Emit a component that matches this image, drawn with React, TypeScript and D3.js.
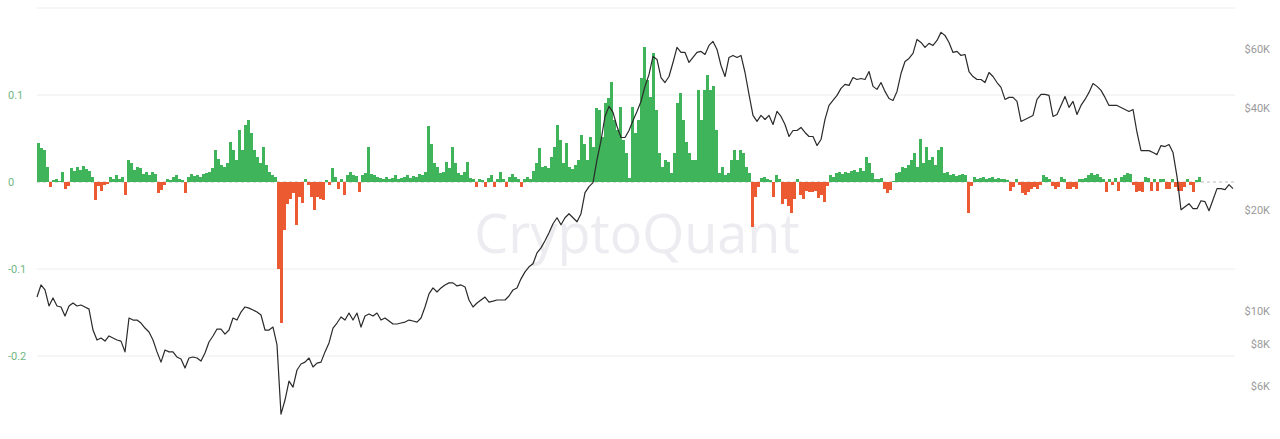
import React from "react";
import * as d3 from "d3";

// Flow ratio (bars), one value every 3 days
const flowRatio: number[] = [
  0.045,0.039,0.037,0.017,-0.006,0.002,0.004,0.001,0.012,-0.008,-0.005,0.016,0.013,0.017,0.014,0.018,0.015,0.013,0.006,-0.021,
  -0.005,-0.01,-0.004,-0.002,0.006,0.004,0.008,0.004,0.006,-0.015,0.025,0.022,0.014,0.017,0.016,0.009,0.011,0.008,0.012,0.009,
  -0.013,-0.009,-0.004,0.003,0.002,0.006,0.008,0.003,0.002,-0.013,0.006,0.009,0.007,0.008,0.006,0.009,0.01,0.012,0.016,0.037,
  0.027,0.02,0.017,0.022,0.046,0.037,0.025,0.06,0.037,0.065,0.071,0.056,0.037,0.029,0.022,0.04,0.02,0.012,0.008,0.006,
  -0.1,-0.162,-0.055,-0.025,-0.02,-0.013,-0.049,-0.017,-0.024,0.003,-0.004,-0.017,-0.032,-0.017,-0.019,-0.021,0.002,-0.003,0.016,0.006,
  -0.008,0.004,-0.015,0.008,0.012,0.008,0.007,-0.011,0.008,0.01,0.04,0.009,0.008,0.006,0.005,0.004,0.006,0.004,0.005,0.008,
  0.004,0.005,0.006,0.008,0.005,0.007,0.006,0.009,0.008,0.012,0.064,0.044,0.022,0.017,0.01,0.012,0.023,0.016,0.04,0.022,
  0.01,0.008,0.011,0.023,0.005,0.003,-0.006,0.004,0.002,-0.006,0.005,0.008,-0.006,0.004,0.011,0.003,-0.006,0.006,0.009,0.006,
  0.004,-0.006,0.003,0.006,0.004,0.013,0.022,0.039,0.017,0.018,0.016,0.029,0.04,0.065,0.048,0.022,0.045,0.017,0.015,0.02,
  0.025,0.054,0.044,0.025,0.052,0.04,0.085,0.083,0.052,0.091,0.097,0.115,0.071,0.06,0.086,0.048,0.033,0.005,0.086,0.056,
  0.071,0.12,0.155,0.117,0.098,0.148,0.083,0.033,0.017,0.025,0.023,0.01,0.033,0.091,0.102,0.071,0.046,0.033,0.025,0.025,
  0.106,0.071,0.106,0.123,0.106,0.11,0.06,0.01,0.017,0.008,0.01,0.025,0.037,0.025,0.037,0.033,0.017,0.01,-0.052,-0.017,
  -0.006,0.005,0.006,0.004,0.002,-0.017,0.008,0.004,-0.025,-0.02,-0.028,-0.036,-0.02,0.003,-0.015,-0.02,-0.01,-0.012,-0.012,-0.01,
  -0.018,-0.015,-0.023,-0.005,0.008,0.006,0.01,0.012,0.009,0.011,0.01,0.013,0.014,0.012,0.016,0.013,0.029,0.022,0.01,0.004,
  0.003,0.005,-0.008,-0.013,-0.009,0.001,0.01,0.011,0.017,0.016,0.019,0.025,0.033,0.017,0.05,0.022,0.04,0.025,0.029,0.02,
  0.037,0.04,0.01,0.011,0.008,0.009,0.007,0.008,0.009,0.008,-0.036,-0.005,0.006,0.004,0.005,0.006,0.004,0.005,0.006,0.004,
  0.005,0.003,0.004,0.002,-0.01,-0.006,0.004,-0.003,-0.013,-0.015,-0.011,-0.008,-0.006,-0.008,-0.004,0.008,0.006,0.004,-0.005,-0.008,
  -0.006,0.006,0.004,-0.008,-0.008,-0.006,-0.008,0.004,0.003,0.005,0.008,0.01,0.008,0.009,0.006,0.004,-0.012,0.003,-0.004,0.005,
  -0.01,0.006,0.008,0.01,0.009,-0.004,-0.012,-0.01,-0.012,0.006,0.005,-0.01,0.004,-0.01,0.004,0.003,-0.008,-0.008,0.004,-0.006,
  -0.01,-0.01,-0.006,0.003,-0.003,-0.012,0.002,0.006,
];

// BTC price (USD), one value every 4 days
const btcPrice: number[] = [
  11000,11950,11550,10350,10930,10350,10280,9660,10350,10560,10350,10420,10280,10130,8780,8200,8310,8140,8430,8310,
  8200,8140,7560,9530,9400,9400,9210,8900,8660,8200,7560,7050,7660,7560,7560,7300,7200,6770,7250,7300,
  7250,7100,7500,8090,8430,8840,8840,8540,8780,9530,9400,9930,10280,10200,10070,9930,9730,8780,8780,8960,
  7930,4940,5440,6190,5940,6680,6960,7050,7250,6820,7000,7050,7560,8040,8900,9210,9600,9400,9860,9400,
  9860,8960,9660,9800,9660,9860,9400,9530,9340,9150,9150,9210,9270,9400,9340,9270,9530,10280,11240,11710,
  11390,11710,11950,12120,12120,11870,11950,11790,10780,10280,10560,10780,11000,10630,10700,10780,10780,10780,11080,11550,
  11710,12460,13070,13530,13810,14880,15400,16160,17070,18160,18920,18030,18920,19450,18920,18410,19450,22460,23410,24060,
  28170,32090,37830,40520,38880,35320,32760,32760,34360,36810,39150,41920,46470,50400,57020,55860,49370,47710,49710,54720,
  60650,58600,58600,54720,56630,58600,59010,57800,61480,63200,59820,53600,49710,56630,57410,56630,57410,51090,43980,38090,
  36560,38090,37060,38090,35810,39150,37830,35810,32980,34360,34360,35080,33900,32980,32980,31000,32310,37060,40790,42210,
  43680,45830,47110,46790,49370,48700,49040,48700,51440,46470,45520,47710,44900,42790,42210,44900,50740,55100,56240,58200,
  64070,62760,60650,62340,61480,63630,67220,65850,62760,58600,59010,57410,57800,51440,49710,48700,48700,47710,51090,49710,
  47710,46150,42500,43090,43090,41920,36560,37060,37570,38090,42500,43980,43980,43680,37830,38350,40790,43380,40240,41920,
  38350,40790,42500,44590,47380,46470,45210,43090,40790,40790,40790,40240,39690,39150,39690,33900,29950,29950,29950,29550,
  29140,31000,30790,31210,29550,25070,19990,20410,20830,20130,20130,21260,21120,19850,21410,23090,23090,22930,23730,23090,
];

const leftTicks: number[] = [-0.2, -0.1, 0, 0.1];
const leftGrid: number[] = [-0.2, -0.1, 0.1, 0.2];
const rightTicks: number[] = [6000, 8000, 10000, 20000, 40000, 60000];
const rightLabels: string[] = ["$6K", "$8K", "$10K", "$20K", "$40K", "$60K"];

const BAR_STEP = 3;
const PRICE_STEP = 4;
const TOTAL_DAYS = 1200;

export default function App() {
  const W = 1280, H = 439;
  const left = 37, right = 1235;
  const x = d3.scaleLinear().domain([0, TOTAL_DAYS]).range([37, 1237]);
  const y = d3.scaleLinear().domain([-0.2, 0.2]).range([356, 8]);
  const yp = d3.scaleLog().domain([10000, 60000]).range([311, 49]);

  const line = d3
    .line<number>()
    .x((_, i) => x(i * PRICE_STEP))
    .y((d) => yp(d))
    .curve(d3.curveLinear);

  const font = "Roboto, 'Noto Sans', sans-serif";

  return (
    <svg
      width={W}
      height={H}
      style={{ position: "absolute", left: 0, top: 0, background: "#fff" }}
    >
      {leftGrid.map((t) => (
        <line key={t} x1={left} x2={right} y1={y(t)} y2={y(t)} stroke="#ececec" strokeWidth={1} />
      ))}
      <line x1={left} x2={right} y1={y(0)} y2={y(0)} stroke="#bbbbbb" strokeWidth={1} strokeDasharray="3,3" />
      <text
        x={637}
        y={253}
        textAnchor="middle"
        fontFamily="'Open Sans', 'Noto Sans', sans-serif"
        fontSize={54}
        fill="#ececf1"
      >
        CryptoQuant
      </text>
      {leftTicks.map((t) => (
        <text key={t} x={8} y={y(t) + 4} fontFamily={font} fontSize={11} fill="#72b784">
          {String(t)}
        </text>
      ))}
      {rightTicks.map((t, i) => (
        <text key={t} x={1270} y={yp(t) + 4} textAnchor="end" fontFamily={font} fontSize={11} fill="#9a9a9a">
          {rightLabels[i]}
        </text>
      ))}
      <g shapeRendering="crispEdges">
        {flowRatio.map((v, i) => {
          const x0 = x(i * BAR_STEP);
          const x1 = x((i + 1) * BAR_STEP);
          const y0 = y(0);
          const yv = y(v);
          return (
            <rect
              key={i}
              x={x0}
              width={x1 - x0}
              y={Math.min(y0, yv)}
              height={Math.max(1, Math.abs(yv - y0))}
              fill={v >= 0 ? "#3fb45a" : "#ec5a31"}
            />
          );
        })}
      </g>
      <path d={line(btcPrice) || ""} fill="none" stroke="#2a2a2a" strokeWidth={1.2} strokeLinejoin="round" />
    </svg>
  );
}
